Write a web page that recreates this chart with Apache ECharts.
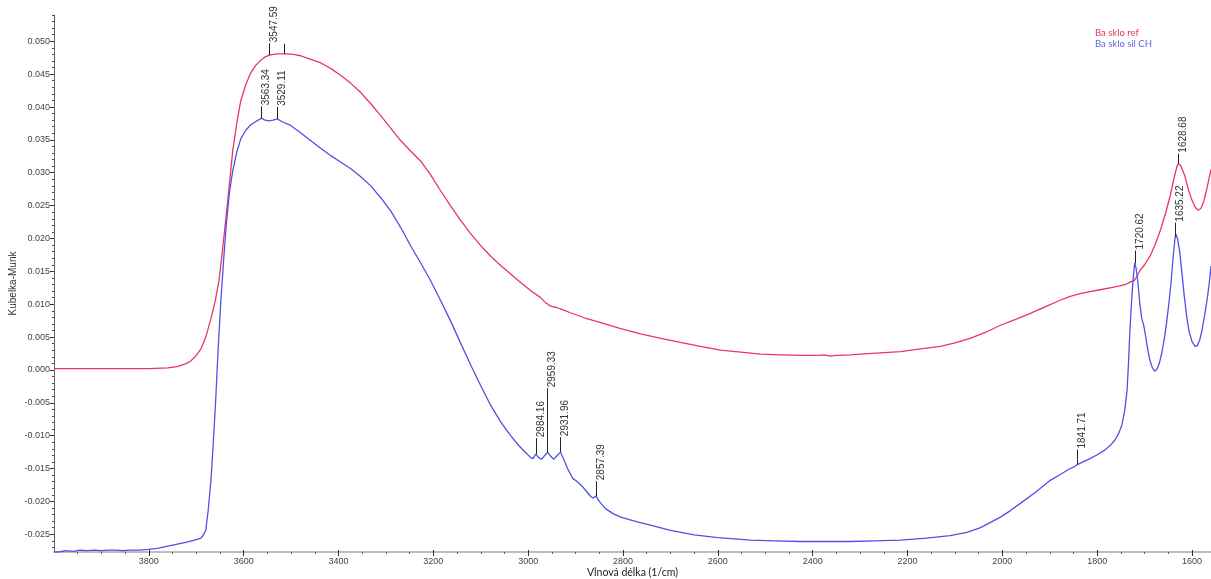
<!DOCTYPE html>
<html>
<head>
<meta charset="utf-8">
<script src="https://cdn.jsdelivr.net/npm/echarts@6/dist/echarts.min.js"></script>
<style>html,body{margin:0;padding:0;background:#fff}#c{width:1211px;height:579px}</style>
</head>
<body>
<div id="c"></div>
<script>
// ---- data ----
const refName = 'Ba sklo ref';
const silName = 'Ba sklo sil CH';

const refX = [4000,3900,3800,3760,3740,3720,3711,3700,3690,3680,3669,3660,3652,3645,3638,3630,3623,3614,3606,3595,3585,3575,3564,3555,3547,3530,3511,3495,3480,3460,3437,3415,3395,3374,3353,3332,3311,3290,3269,3248,3227,3206,3185,3164,3142,3121,3100,3079,3058,3037,3016,2995,2974,2963,2958,2953,2940,2925,2911,2880,2847,2805,2763,2720,2679,2637,2594,2552,2510,2468,2426,2390,2375,2363,2350,2320,2299,2257,2215,2173,2131,2100,2068,2036,2004,1972,1941,1910,1878,1857,1836,1815,1794,1773,1752,1740,1730,1722,1715,1710,1700,1688,1678,1667,1656,1646,1638,1632,1629,1624,1615,1608,1600,1593,1587,1581,1575,1568,1560];
const refY = [0.0002,0.0002,0.0002,0.0003,0.0005,0.0010,0.0014,0.0022,0.0032,0.0050,0.0078,0.0105,0.0136,0.0180,0.0227,0.0283,0.0334,0.0378,0.0410,0.0435,0.0452,0.0463,0.0471,0.0476,0.0479,0.0481,0.0481,0.0480,0.0478,0.0473,0.0467,0.0458,0.0448,0.0436,0.0422,0.0405,0.0387,0.0368,0.0349,0.0333,0.0318,0.0297,0.0273,0.0250,0.0227,0.0207,0.0189,0.0173,0.0159,0.0146,0.0133,0.0121,0.0110,0.0102,0.0100,0.0097,0.0095,0.0091,0.0087,0.0079,0.0072,0.0063,0.0055,0.0048,0.0042,0.0036,0.0030,0.0027,0.0024,0.0023,0.0022,0.0022,0.0023,0.0021,0.0022,0.0023,0.0024,0.0026,0.0028,0.0032,0.0036,0.0041,0.0048,0.0057,0.0068,0.0077,0.0086,0.0096,0.0106,0.0112,0.0116,0.0119,0.0122,0.0125,0.0128,0.0130,0.0134,0.0136,0.0144,0.0151,0.0160,0.0174,0.0190,0.0212,0.0238,0.0265,0.0292,0.0309,0.0314,0.0311,0.0295,0.0275,0.0258,0.0247,0.0243,0.0246,0.0257,0.0278,0.0305];

const silX = [4000,3990,3975,3960,3945,3930,3915,3900,3885,3870,3855,3840,3820,3800,3780,3760,3740,3720,3700,3690,3684,3680,3675,3669,3664,3659,3654,3648,3642,3636,3630,3623,3615,3606,3595,3585,3572,3563,3555,3547,3538,3529,3520,3501,3480,3459,3437,3416,3395,3374,3353,3332,3311,3290,3269,3248,3227,3206,3185,3164,3142,3121,3100,3079,3058,3037,3020,3005,2995,2990,2984,2978,2972,2966,2959,2953,2946,2940,2932,2925,2917,2906,2895,2885,2879,2870,2864,2857,2850,2837,2820,2805,2770,2742,2700,2650,2600,2531,2480,2426,2370,2321,2270,2215,2160,2110,2075,2046,2025,2004,1983,1962,1930,1899,1878,1857,1848,1842,1830,1815,1800,1784,1770,1763,1755,1748,1742,1737,1734,1731,1727,1724,1721,1718,1714,1710,1706,1702,1698,1694,1689,1684,1679,1674,1669,1664,1659,1654,1649,1644,1640,1636,1634,1630,1626,1621,1616,1611,1606,1600,1594,1589,1584,1579,1573,1568,1564,1560];
const silY = [-0.0277,-0.0277,-0.0275,-0.0276,-0.0274,-0.0275,-0.0274,-0.0275,-0.0274,-0.0274,-0.0275,-0.0274,-0.0274,-0.0273,-0.0271,-0.0268,-0.0265,-0.0262,-0.0258,-0.0256,-0.0250,-0.0244,-0.0215,-0.0168,-0.0110,-0.0046,0.0030,0.0106,0.0170,0.0227,0.0270,0.0303,0.0330,0.0352,0.0365,0.0373,0.0379,0.0383,0.0380,0.0379,0.0380,0.0382,0.0378,0.0372,0.0361,0.0349,0.0337,0.0326,0.0316,0.0306,0.0294,0.0280,0.0262,0.0242,0.0217,0.0189,0.0163,0.0136,0.0106,0.0075,0.0040,0.0007,-0.0024,-0.0054,-0.0079,-0.0100,-0.0115,-0.0126,-0.0133,-0.0135,-0.0128,-0.0133,-0.0136,-0.0131,-0.0125,-0.0131,-0.0136,-0.0131,-0.0125,-0.0136,-0.0150,-0.0165,-0.0171,-0.0178,-0.0183,-0.0191,-0.0195,-0.0192,-0.0200,-0.0211,-0.0219,-0.0224,-0.0231,-0.0236,-0.0244,-0.0251,-0.0255,-0.0259,-0.0260,-0.0261,-0.0261,-0.0261,-0.0260,-0.0259,-0.0256,-0.0252,-0.0247,-0.0240,-0.0232,-0.0224,-0.0214,-0.0203,-0.0186,-0.0168,-0.0159,-0.0150,-0.0147,-0.0144,-0.0140,-0.0135,-0.0129,-0.0122,-0.0113,-0.0107,-0.0097,-0.0084,-0.0062,-0.0031,0.0010,0.0060,0.0110,0.0140,0.0163,0.0155,0.0132,0.0100,0.0078,0.0068,0.0052,0.0034,0.0015,0.0004,-0.0002,0.0001,0.0010,0.0025,0.0045,0.0070,0.0100,0.0135,0.0170,0.0200,0.0207,0.0198,0.0180,0.0145,0.0110,0.0080,0.0058,0.0043,0.0036,0.0037,0.0045,0.0060,0.0085,0.0108,0.0130,0.0158];

// peak annotations
const peakWn     = [3547.59, 3515, 3563.34, 3529.11, 2984.16, 2959.33, 2931.96, 2857.39, 1841.71, 1720.62, 1635.22, 1628.68];
const peakLabels = ['3547.59', '', '3563.34', '3529.11', '2984.16', '2959.33', '2931.96', '2857.39', '1841.71', '1720.62', '1635.22', '1628.68'];
const peakOn     = ['ref', 'ref', 'sil', 'sil', 'sil', 'sil', 'sil', 'sil', 'sil', 'sil', 'sil', 'ref'];

// axis ticks
const xTickLabels = [3800, 3600, 3400, 3200, 3000, 2800, 2600, 2400, 2200, 2000, 1800, 1600];
const yTickLabels = [-0.025, -0.020, -0.015, -0.010, -0.005, 0.000, 0.005, 0.010, 0.015, 0.020, 0.025, 0.030, 0.035, 0.040, 0.045, 0.050];

// ---- build ----
const X_MIN = 1560, X_MAX = 4000, Y_MIN = -0.0277, Y_MAX = 0.054;
const peakLead = [12, 10, 12, 12, 16, 64, 15, 15, 15, 13, 14, 10];

function interp(xs, ys, x) {
  for (let i = 0; i < xs.length - 1; i++) {
    if ((xs[i] >= x && xs[i + 1] <= x)) {
      const t = (x - xs[i]) / (xs[i + 1] - xs[i]);
      return ys[i] + t * (ys[i + 1] - ys[i]);
    }
  }
  return ys[ys.length - 1];
}
const peakData = peakWn.map((w, i) => [w, peakOn[i] === 'ref' ? interp(refX, refY, w) : interp(silX, silY, w)]);

const xMinor = [];
for (let v = 1600; v <= 3950; v += 50) if (v % 200 !== 0) xMinor.push(v);
const yMinor = [];
for (let k = -27; k <= 54; k++) if (k % 5 !== 0) yMinor.push(k / 1000);

const RED = '#e8365f', BLUE = '#5050e8';
const tickFont = { fontFamily: 'Liberation Sans', fontSize: 9, color: '#444' };

const chart = echarts.init(document.getElementById('c'), null, { renderer: 'canvas' });
chart.setOption({
  animation: false,
  backgroundColor: '#fff',
  grid: { left: 54, right: 0, top: 15, bottom: 27, containLabel: false, outerBoundsMode: 'none' },
  legend: {
    orient: 'vertical', left: 1090, top: 23, itemGap: 1, itemWidth: 0, itemHeight: 0,
    icon: 'rect', selectedMode: false,
    textStyle: { fontFamily: 'Lato', fontSize: 9.5, padding: [0, 0, 0, -5] },
    data: [
      { name: refName, textStyle: { color: RED } },
      { name: silName, textStyle: { color: '#6565e6' } }
    ]
  },
  xAxis: [
    {
      type: 'value', min: X_MIN, max: X_MAX, inverse: true,
      name: 'Vlnová délka (1/cm)', nameLocation: 'middle', nameGap: 15, nameMoveOverlap: false,
      nameTextStyle: { fontFamily: 'Lato', fontSize: 10.5, color: '#222' },
      splitLine: { show: false },
      axisLine: { onZero: false, lineStyle: { color: '#a8a8a8', width: 1.5 } },
      axisTick: { customValues: xTickLabels, length: 4, lineStyle: { color: '#333' } },
      axisLabel: Object.assign({ customValues: xTickLabels, margin: 5, formatter: v => String(v) }, tickFont)
    },
    {
      type: 'value', min: X_MIN, max: X_MAX, inverse: true, position: 'bottom',
      splitLine: { show: false },
      axisLine: { show: false, onZero: false },
      axisTick: { customValues: xMinor, length: 2, lineStyle: { color: '#555' } },
      axisLabel: { show: false }
    },
    {
      type: 'value', min: X_MIN, max: X_MAX, inverse: true, position: 'bottom',
      splitLine: { show: false },
      axisLine: { show: false, onZero: false },
      axisTick: { customValues: xTickLabels, inside: true, length: 2, lineStyle: { color: '#333' } },
      axisLabel: { show: false }
    }
  ],
  yAxis: [
    {
      type: 'value', min: Y_MIN, max: Y_MAX,
      name: 'Kubelka-Munk', nameLocation: 'middle', nameGap: 36, nameMoveOverlap: false,
      nameTextStyle: { fontFamily: 'Liberation Sans', fontSize: 10, color: '#333' },
      splitLine: { show: false },
      axisLine: { onZero: false, lineStyle: { color: '#666', width: 1 } },
      axisTick: { customValues: yTickLabels, length: 4, lineStyle: { color: '#333' } },
      axisLabel: Object.assign({ customValues: yTickLabels, margin: 4, formatter: v => v.toFixed(3) }, tickFont)
    },
    {
      type: 'value', min: Y_MIN, max: Y_MAX, position: 'left',
      splitLine: { show: false },
      axisLine: { show: false, onZero: false },
      axisTick: { customValues: yMinor, length: 2, lineStyle: { color: '#444' } },
      axisLabel: { show: false }
    }
  ],
  series: [
    {
      name: refName, type: 'line', showSymbol: false, symbol: 'none',
      data: refX.map((x, i) => [x, refY[i]]),
      lineStyle: { color: RED, width: 1.3 }, itemStyle: { color: RED }, z: 3
    },
    {
      name: silName, type: 'line', showSymbol: false, symbol: 'none',
      data: silX.map((x, i) => [x, silY[i]]),
      lineStyle: { color: BLUE, width: 1.3 }, itemStyle: { color: BLUE }, z: 3
    },
    {
      type: 'custom', clip: false, z: 4, silent: true,
      data: peakData,
      encode: { x: 0, y: 1 },
      renderItem: function (params, api) {
        const p = api.coord([api.value(0), api.value(1)]);
        const i = params.dataIndex;
        const x = Math.round(p[0]) + 0.5;
        const top = p[1] - peakLead[i];
        const children = [{
          type: 'line',
          shape: { x1: x, y1: p[1], x2: x, y2: top },
          style: { stroke: '#222', lineWidth: 1 }
        }];
        if (peakLabels[i]) {
          children.push({
            type: 'text', x: x + 5, y: top - 1, rotation: Math.PI / 2,
            style: { text: peakLabels[i], fontFamily: 'Liberation Sans', fontSize: 10, fill: '#333', align: 'left', verticalAlign: 'middle' }
          });
        }
        return { type: 'group', children: children };
      }
    }
  ]
});
</script>
</body>
</html>
